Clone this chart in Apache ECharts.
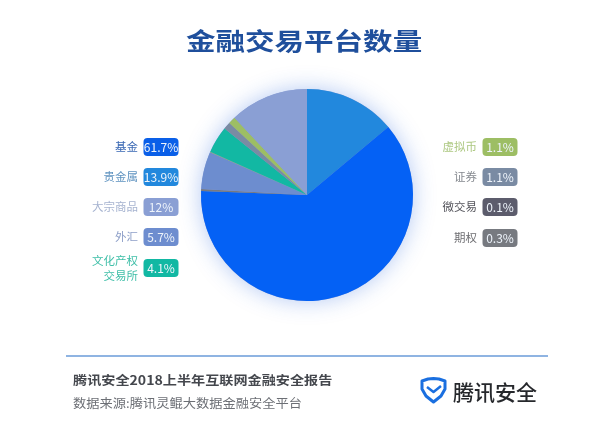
<!DOCTYPE html>
<html>
<head>
<meta charset="utf-8">
<script src="https://cdn.jsdelivr.net/npm/echarts@6/dist/echarts.min.js"></script>
<style>
html, body { margin: 0; padding: 0; background: #fff; }
#chart { width: 614px; height: 442px; }
</style>
</head>
<body>
<div id="chart"></div>
<script>
// slices in clockwise order from 12 o'clock
const sliceNames = ['贵金属', '基金', '期权', '外汇', '微交易', '文化产权交易所', '证券', '虚拟币', '大宗商品'];
const sliceValues = [13.9, 61.7, 0.3, 5.7, 0.1, 4.1, 1.1, 1.1, 12];
const sliceColors = ['#2288dd', '#0461f5', '#777a80', '#6d8dcf', '#a0b060', '#12b8a3', '#7a8ba3', '#9dbe64', '#8a9fd4'];

const leftNames = ['基金', '贵金属', '大宗商品', '外汇', '文化产权\n交易所'];
const leftBadges = ['61.7%', '13.9%', '12%', '5.7%', '4.1%'];
const leftBadgeColors = ['#0a5fe8', '#2288dd', '#8a9fd4', '#6d8dcf', '#12b8a3'];
const leftTextColors = ['#3a68b4', '#5f93c0', '#a6b3d0', '#8d9fc8', '#3fbfa8'];

const rightNames = ['虚拟币', '证券', '微交易', '期权'];
const rightBadges = ['1.1%', '1.1%', '0.1%', '0.3%'];
const rightBadgeColors = ['#9dbe64', '#7a8ba3', '#5c5c6c', '#777a80'];
const rightTextColors = ['#adc882', '#85898f', '#55555c', '#6e6e72'];

const fontFamily = '"Noto Sans CJK SC", "Noto Sans", sans-serif';
const pieCenter = [307, 195];
const pieRadius = 106;

/**
 * Builds one column of the legend: a right-aligned name and a rounded badge
 */
function legendColumn(names, badges, badgeColors, textColors, nameX, badgeX, rowY) {
    const items = [];
    names.forEach((name, i) => {
        items.push({
            type: 'text',
            silent: true,
            style: {
                x: nameX,
                y: rowY[i],
                text: name,
                fill: textColors[i],
                font: '11.5px ' + fontFamily,
                lineHeight: 15,
                align: 'right',
                verticalAlign: 'middle'
            }
        });
        items.push({
            type: 'rect',
            silent: true,
            shape: { x: badgeX, y: rowY[i] - 9, width: 35, height: 18, r: 4 },
            style: { fill: badgeColors[i] }
        });
        items.push({
            type: 'text',
            silent: true,
            style: {
                x: badgeX + 17.5,
                y: rowY[i],
                text: badges[i],
                fill: '#eef4fb',
                font: '12px ' + fontFamily,
                align: 'center',
                verticalAlign: 'middle'
            }
        });
    });
    return items;
}

/**
 * Left-aligned text stretched horizontally, the report uses a wide display face
 */
function wideText(text, x, y, scaleX, fill, font) {
    return {
        type: 'text',
        silent: true,
        x: x,
        y: y,
        scaleX: scaleX,
        style: { x: 0, y: 0, text: text, fill: fill, font: font, verticalAlign: 'middle' }
    };
}

const chart = echarts.init(document.getElementById('chart'));
chart.setOption({
    backgroundColor: '#fff',
    animation: false,
    series: [
        {
            // full disc underneath, only carries the glow so it does not fall on the slices
            type: 'pie',
            silent: true,
            z: 1,
            center: pieCenter,
            radius: [0, pieRadius],
            label: { show: false },
            labelLine: { show: false },
            itemStyle: {
                color: '#8a9fd4',
                shadowBlur: 22,
                shadowColor: 'rgba(40, 100, 220, 0.35)'
            },
            data: [{ name: '合计', value: sliceValues.reduce((a, b) => a + b, 0) }]
        },
        {
            type: 'pie',
            silent: true,
            z: 2,
            center: pieCenter,
            radius: [0, pieRadius],
            startAngle: 90,
            clockwise: true,
            minAngle: 0,
            label: { show: false },
            labelLine: { show: false },
            data: sliceNames.map((name, i) => ({
                name: name,
                value: sliceValues[i],
                itemStyle: { color: sliceColors[i] }
            }))
        }
    ],
    graphic: [
        wideText('金融交易平台数量', 186, 41, 1.23, '#1f4f9c', 'bold 24px ' + fontFamily),
        ...legendColumn(leftNames, leftBadges, leftBadgeColors, leftTextColors, 138, 143.5, [147, 177, 207, 237, 268]),
        ...legendColumn(rightNames, rightBadges, rightBadgeColors, rightTextColors, 477, 482.5, [147, 177, 207, 238]),
        {
            type: 'line',
            silent: true,
            shape: { x1: 66, y1: 356, x2: 548, y2: 356 },
            style: { stroke: '#6a9bd8', lineWidth: 1.5 }
        },
        wideText('腾讯安全2018上半年互联网金融安全报告', 73, 380, 1.13, '#44474d', 'bold 12.5px ' + fontFamily),
        wideText('数据来源:腾讯灵鲲大数据金融安全平台', 73, 403, 1.06, '#6c6f75', '12.5px ' + fontFamily),
        {
            // logo shield
            type: 'polygon',
            silent: true,
            shape: {
                points: [[422, 381], [428, 379], [433.5, 378.5], [439, 379], [445, 381], [445, 389], [441, 396], [433.5, 402], [426, 396], [422, 389]]
            },
            style: { fill: 'none', stroke: '#1a6fe0', lineWidth: 3, lineJoin: 'round' }
        },
        {
            // logo check mark
            type: 'polyline',
            silent: true,
            shape: { points: [[427, 387], [433.5, 392], [441, 386]] },
            style: { fill: 'none', stroke: '#1a6fe0', lineWidth: 2.5, lineJoin: 'round' }
        },
        {
            type: 'text',
            silent: true,
            style: {
                x: 453,
                y: 392,
                text: '腾讯安全',
                fill: '#26282c',
                font: '500 21px ' + fontFamily,
                verticalAlign: 'middle'
            }
        }
    ]
});
</script>
</body>
</html>
